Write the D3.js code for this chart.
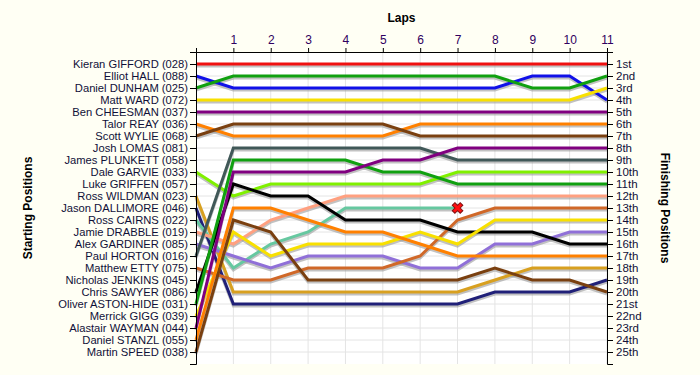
<!DOCTYPE html>
<html>
<head>
<meta charset="utf-8">
<script src="https://cdn.jsdelivr.net/npm/d3@7"></script>
<style>
    body { margin: 0; background: #fffff4; }
    text { font-family: "Liberation Sans", Arial, sans-serif; }
</style>
</head>
<body>
<div id="lapChart"></div>
<script>
// grid order, as printed down the left side
var startNames = [
    "Kieran GIFFORD (028)", "Elliot HALL (088)", "Daniel DUNHAM (025)", "Matt WARD (072)",
    "Ben CHEESMAN (037)", "Talor REAY (036)", "Scott WYLIE (068)", "Josh LOMAS (081)",
    "James PLUNKETT (058)", "Dale GARVIE (033)", "Luke GRIFFEN (057)", "Ross WILDMAN (023)",
    "Jason DALLIMORE (046)", "Ross CAIRNS (022)", "Jamie DRABBLE (019)", "Alex GARDINER (085)",
    "Paul HORTON (016)", "Matthew ETTY (075)", "Nicholas JENKINS (045)", "Chris SAWYER (086)",
    "Oliver ASTON-HIDE (031)", "Merrick GIGG (039)", "Alastair WAYMAN (044)", "Daniel STANZL (055)",
    "Martin SPEED (038)"
];

var finishLabels = [
    "1st", "2nd", "3rd", "4th", "5th", "6th", "7th", "8th", "9th", "10th", "11th", "12th", "13th",
    "14th", "15th", "16th", "17th", "18th", "19th", "20th", "21st", "22nd", "23rd", "24th", "25th"
];

var lapTicks = [1, 2, 3, 4, 5, 6, 7, 8, 9, 10, 11];

// position at lap 0 (grid) then after each lap; shorter list = retired
var runnerNames = [
    "Kieran GIFFORD (028)", "Elliot HALL (088)", "Daniel DUNHAM (025)", "Matt WARD (072)",
    "Ben CHEESMAN (037)", "Talor REAY (036)", "Scott WYLIE (068)", "Dale GARVIE (033)",
    "Ross WILDMAN (023)", "Jason DALLIMORE (046)", "Ross CAIRNS (022)", "Jamie DRABBLE (019)",
    "Alex GARDINER (085)", "Paul HORTON (016)", "Matthew ETTY (075)", "Chris SAWYER (086)",
    "Oliver ASTON-HIDE (031)", "Merrick GIGG (039)", "Alastair WAYMAN (044)", "Daniel STANZL (055)",
    "Martin SPEED (038)"
];

var runnerColors = [
    "#f01010", "#1010e8", "#10a010", "#f8e000", "#800080", "#ff8000", "#7a4010", "#80f000",
    "#d8a020", "#202078", "#66c8a0", "#ffa080", "#9070d8", "#405858", "#d06828", "#000000",
    "#10a010", "#f8e000", "#800080", "#ff8000", "#7a4010"
];

var runnerLaps = [
    [1, 1, 1, 1, 1, 1, 1, 1, 1, 1, 1, 1],
    [2, 3, 3, 3, 3, 3, 3, 3, 3, 2, 2, 4],
    [3, 2, 2, 2, 2, 2, 2, 2, 2, 3, 3, 2],
    [4, 4, 4, 4, 4, 4, 4, 4, 4, 4, 4, 3],
    [5, 5, 5, 5, 5, 5, 5, 5, 5, 5, 5, 5],
    [6, 7, 7, 7, 7, 7, 6, 6, 6, 6, 6, 6],
    [7, 6, 6, 6, 6, 6, 7, 7, 7, 7, 7, 7],
    [10, 12, 11, 11, 11, 11, 11, 10, 10, 10, 10, 10],
    [12, 20, 20, 20, 20, 20, 20, 20, 19, 18, 18, 18],
    [13, 21, 21, 21, 21, 21, 21, 21, 20, 20, 20, 19],
    [14, 18, 16, 15, 13, 13, 13, 13],
    [15, 16, 14, 13, 12, 12, 12, 12, 12, 12, 12, 12],
    [16, 17, 18, 17, 17, 17, 18, 18, 16, 16, 15, 15],
    [17, 8, 8, 8, 8, 8, 8, 9, 9, 9, 9, 9],
    [18, 19, 19, 18, 18, 18, 17, 14, 13, 13, 13, 13],
    [20, 11, 12, 12, 14, 14, 14, 15, 15, 15, 16, 16],
    [21, 9, 9, 9, 9, 10, 10, 11, 11, 11, 11, 11],
    [22, 15, 17, 16, 16, 16, 15, 16, 14, 14, 14, 14],
    [23, 10, 10, 10, 10, 9, 9, 8, 8, 8, 8, 8],
    [24, 13, 13, 14, 15, 15, 16, 17, 17, 17, 17, 17],
    [25, 14, 15, 19, 19, 19, 19, 19, 18, 19, 19, 20]
];

var runners = runnerNames.map((n, i) => ({name: n, color: runnerColors[i], laps: runnerLaps[i]}));

var width = 700,
    height = 375,
    margin = {top: 52, right: 93, bottom: 11, left: 196},
    innerW = width - margin.left - margin.right,
    innerH = height - margin.top - margin.bottom;

var svg = d3.select('#lapChart')
    .append("svg")
    .attr("width", width)
    .attr("height", height)
    .style("display", "block");

var g = svg.append("g")
    .attr("transform", `translate(${margin.left},${margin.top})`);

var xScale = d3.scaleLinear().domain([0, lapTicks.length]).range([0, innerW]);
var yScale = d3.scaleLinear().domain([0, startNames.length + 1]).range([0, innerH]);
var rows = d3.range(1, startNames.length + 1);

g.append("rect")
    .attr("width", innerW)
    .attr("height", innerH)
    .attr("fill", "#ffffff");

// grid
g.selectAll(".vgrid")
    .data(lapTicks)
    .enter().append("line")
    .attr("class", "vgrid")
    .attr("x1", d => xScale(d)).attr("x2", d => xScale(d))
    .attr("y1", 0).attr("y2", innerH)
    .attr("stroke", "#e4e4e4");

g.selectAll(".hgrid")
    .data(rows)
    .enter().append("line")
    .attr("class", "hgrid")
    .attr("x1", 0).attr("x2", innerW)
    .attr("y1", d => yScale(d)).attr("y2", d => yScale(d))
    .attr("stroke", "#e4e4e4");

var line = d3.line()
    .x((d, i) => xScale(i))
    .y(d => yScale(d));

// shadows first, then the coloured lines
g.selectAll(".shadow")
    .data(runners)
    .enter().append("path")
    .attr("class", "shadow")
    .attr("d", d => line(d.laps))
    .attr("transform", "translate(0,2)")
    .attr("fill", "none")
    .attr("stroke", "#9a9a9a")
    .attr("stroke-opacity", 0.6)
    .attr("stroke-width", 3);

g.selectAll(".runner")
    .data(runners)
    .enter().append("path")
    .attr("class", "runner")
    .attr("d", d => line(d.laps))
    .attr("fill", "none")
    .attr("stroke", d => d.color)
    .attr("stroke-width", 3);

// retirement marker
var retired = runners.filter(d => d.laps.length <= lapTicks.length);
g.selectAll(".retired")
    .data(retired)
    .enter().append("path")
    .attr("class", "retired")
    .attr("d", d3.symbol().type(d3.symbolCross).size(70))
    .attr("transform", d => `translate(${xScale(d.laps.length - 1)},${yScale(d.laps[d.laps.length - 1])}) rotate(45)`)
    .attr("fill", "#ff1010")
    .attr("stroke", "#801010")
    .attr("stroke-width", 1);

// axes
var topAxis = d3.axisTop(xScale).tickValues(lapTicks).tickFormat(d3.format("d"))
    .tickSizeInner(4).tickSizeOuter(4).tickPadding(4);
var leftAxis = d3.axisLeft(yScale).tickValues(rows).tickFormat(d => startNames[d - 1])
    .tickSizeInner(6).tickSizeOuter(6).tickPadding(2);
var rightAxis = d3.axisRight(yScale).tickValues(rows).tickFormat(d => finishLabels[d - 1])
    .tickSizeInner(6).tickSizeOuter(6).tickPadding(3);

function styleAxis(sel, col, size) {
    sel.selectAll("path, line").attr("stroke", "#000");
    sel.selectAll("text").attr("fill", col).style("font-size", size);
    sel.attr("font-family", null);
}

g.append("g").attr("class", "x axis").call(topAxis).call(styleAxis, "#300060", "12px");
g.append("g").attr("class", "y axis").call(leftAxis).call(styleAxis, "#101038", "11.2px");
g.append("g").attr("class", "y axis right")
    .attr("transform", `translate(${innerW},0)`)
    .call(rightAxis).call(styleAxis, "#101038", "11.5px");

// titles
svg.append("text")
    .attr("x", margin.left + innerW / 2)
    .attr("y", 22)
    .attr("text-anchor", "middle")
    .style("font-size", "12px")
    .style("font-weight", "bold")
    .text("Laps");

svg.append("text")
    .attr("transform", `translate(32,${margin.top + innerH / 2}) rotate(-90)`)
    .attr("text-anchor", "middle")
    .style("font-size", "12px")
    .style("font-weight", "bold")
    .text("Starting Positions");

svg.append("text")
    .attr("transform", `translate(661,${margin.top + innerH / 2}) rotate(90)`)
    .attr("text-anchor", "middle")
    .style("font-size", "12px")
    .style("font-weight", "bold")
    .text("Finishing Positions");
</script>
</body>
</html>
